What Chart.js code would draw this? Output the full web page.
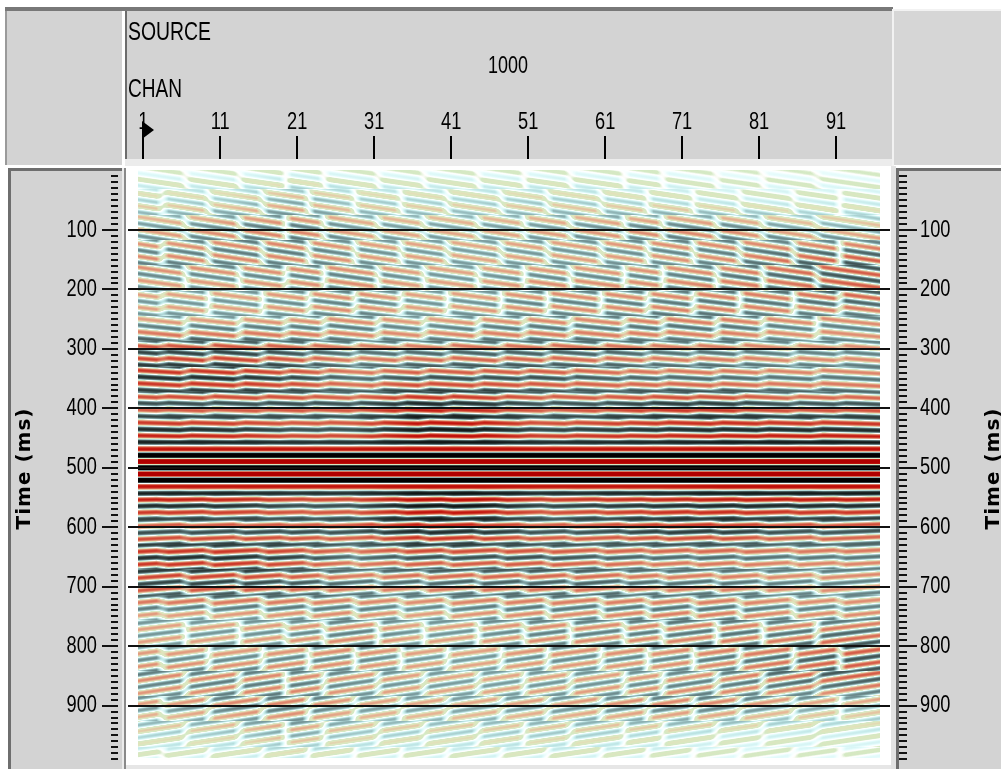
<!DOCTYPE html>
<html>
<head>
<meta charset="utf-8">
<title>SOURCE 1000 - Time (ms)</title>
<script src="https://cdn.jsdelivr.net/npm/chart.js@4.4.1/dist/chart.umd.min.js"></script>
<style>
html,body{margin:0;padding:0;background:#fff;overflow:hidden}
canvas{display:block}
</style>
</head>
<body>
<canvas id="c" width="1001" height="769"></canvas>
<script>
// ---------------- data ----------------
const sourceLabel = 'SOURCE';
const sourceValue = '1000';
const chanLabel = 'CHAN';
const axisTitle = 'Time (ms)';

const channelTicks = [1, 11, 21, 31, 41, 51, 61, 71, 81, 91];
const timeTicks = [100, 200, 300, 400, 500, 600, 700, 800, 900];
const channelCount = 96;
const timeStart = 0;
const timeEnd = 988;

// times (ms) of the black (positive) stripes
const peakTimes = [-11, 10, 31, 52, 73, 95, 116, 137, 158, 179, 201, 222, 243, 264,
  286, 307, 328, 349, 371, 392, 414, 436, 457, 479, 500, 521, 543, 564, 586, 608,
  629, 651, 672, 693, 714, 736, 757, 778, 799, 821, 842, 863, 884, 905, 927, 948,
  969, 990, 1011];

// channels where the stripes visibly break (two staggered sets, alternating in time)
const segmentEdgesA = [0.5, 6.5, 13.5, 19.5, 24.5, 31.5, 37.5, 44.5, 50.5, 56.5,
  63.5, 68.5, 75.5, 81.5, 88.5, 96.5];
const segmentEdgesB = [0.5, 3.5, 9.5, 16.5, 22.5, 28.5, 34.5, 40.5, 47.5, 53.5,
  60.5, 66.5, 72.5, 78.5, 85.5, 91.5, 96.5];
const breakBandMs = 42.6;

// amplitude envelope: rows = envTimes, columns = centres of 8-channel groups
const envTimes = [0, 50, 100, 150, 200, 250, 300, 350, 400, 440, 468, 478, 500,
  522, 532, 560, 600, 650, 700, 750, 800, 850, 900, 950, 1000];
const envChannels = [4.5, 12.5, 20.5, 28.5, 36.5, 44.5, 52.5, 60.5, 68.5, 76.5, 84.5, 92.5];
const amplitude = [
  [0.07, 0.07, 0.09, 0.07, 0.07, 0.07, 0.07, 0.07, 0.07, 0.06, 0.06, 0.06],
  [0.20, 0.22, 0.30, 0.22, 0.20, 0.20, 0.22, 0.20, 0.17, 0.13, 0.12, 0.12],
  [0.35, 0.42, 0.44, 0.35, 0.33, 0.33, 0.35, 0.38, 0.42, 0.42, 0.33, 0.29],
  [0.42, 0.42, 0.42, 0.38, 0.35, 0.33, 0.35, 0.35, 0.38, 0.41, 0.50, 0.56],
  [0.35, 0.35, 0.38, 0.42, 0.35, 0.35, 0.41, 0.41, 0.41, 0.45, 0.47, 0.56],
  [0.35, 0.35, 0.38, 0.41, 0.35, 0.38, 0.41, 0.41, 0.45, 0.45, 0.41, 0.41],
  [0.60, 0.60, 0.54, 0.45, 0.46, 0.50, 0.50, 0.50, 0.45, 0.45, 0.40, 0.40],
  [0.72, 0.72, 0.62, 0.46, 0.58, 0.58, 0.58, 0.52, 0.48, 0.48, 0.44, 0.44],
  [0.55, 0.55, 0.58, 0.58, 0.78, 0.72, 0.55, 0.58, 0.68, 0.68, 0.58, 0.58],
  [0.76, 0.72, 0.58, 0.58, 0.86, 0.86, 0.62, 0.67, 0.72, 0.76, 0.76, 0.76],
  [0.80, 0.80, 0.80, 0.80, 0.85, 0.85, 0.80, 0.80, 0.80, 0.85, 0.85, 0.85],
  [1.50, 1.50, 1.50, 1.50, 1.50, 1.50, 1.50, 1.50, 1.50, 1.50, 1.50, 1.50],
  [1.60, 1.60, 1.60, 1.60, 1.60, 1.60, 1.60, 1.60, 1.60, 1.60, 1.60, 1.60],
  [1.50, 1.50, 1.50, 1.50, 1.50, 1.50, 1.50, 1.50, 1.50, 1.50, 1.50, 1.50],
  [0.80, 0.80, 0.80, 0.80, 0.85, 0.85, 0.80, 0.80, 0.80, 0.85, 0.85, 0.85],
  [0.76, 0.72, 0.58, 0.58, 0.86, 0.86, 0.62, 0.67, 0.72, 0.76, 0.76, 0.76],
  [0.55, 0.55, 0.58, 0.58, 0.78, 0.72, 0.55, 0.58, 0.68, 0.68, 0.58, 0.58],
  [0.72, 0.72, 0.62, 0.46, 0.58, 0.58, 0.58, 0.52, 0.48, 0.48, 0.44, 0.44],
  [0.60, 0.60, 0.54, 0.45, 0.46, 0.50, 0.50, 0.50, 0.45, 0.45, 0.40, 0.40],
  [0.35, 0.35, 0.38, 0.41, 0.35, 0.38, 0.41, 0.41, 0.45, 0.45, 0.41, 0.41],
  [0.35, 0.35, 0.38, 0.42, 0.35, 0.35, 0.41, 0.41, 0.41, 0.45, 0.47, 0.56],
  [0.42, 0.42, 0.42, 0.38, 0.35, 0.33, 0.35, 0.35, 0.38, 0.41, 0.50, 0.56],
  [0.35, 0.42, 0.44, 0.35, 0.33, 0.33, 0.35, 0.38, 0.42, 0.42, 0.33, 0.29],
  [0.20, 0.22, 0.30, 0.22, 0.20, 0.20, 0.22, 0.20, 0.17, 0.13, 0.12, 0.12],
  [0.07, 0.07, 0.09, 0.07, 0.07, 0.07, 0.07, 0.07, 0.07, 0.06, 0.06, 0.06]
];
// stripe dip inside a segment (ms per channel, + = later to the right)
const dipMs = [1.9, 1.9, 2.0, 1.9, 1.7, 1.4, 1.0, 0.7, 0.5, 0.3, 0, 0, 0,
  0, 0, -0.3, -0.5, -0.7, -1.0, -1.4, -1.7, -1.9, -2.0, -1.9, -1.9];

// colour table: amplitude -> colour
const colorStops = [
  [-1.00, [176, 0, 0]],
  [-0.80, [196, 22, 14]],
  [-0.60, [210, 80, 60]],
  [-0.42, [222, 136, 110]],
  [-0.28, [230, 184, 152]],
  [-0.16, [224, 228, 188]],
  [-0.06, [212, 233, 196]],
  [-0.02, [250, 252, 246]],
  [0.00, [255, 255, 255]],
  [0.03, [246, 255, 255]],
  [0.08, [224, 250, 250]],
  [0.16, [190, 230, 230]],
  [0.28, [140, 176, 178]],
  [0.42, [96, 124, 126]],
  [0.60, [54, 72, 72]],
  [0.80, [22, 30, 30]],
  [1.00, [0, 0, 0]]
];

// ---------------- helpers ----------------
const FONT_FAMILY = "'Liberation Sans', Arial, sans-serif";
const NARROW_FACTOR = 0.76;
const X_MIN = -0.988, X_MAX = 98.01;
const Y_MIN = -4.2, Y_MAX = 1006.6;
const FADE_CH = 0.8;

const nativeFillText = CanvasRenderingContext2D.prototype.fillText;
function narrowFillText(text, x, y, maxWidth) {
  const w = this.measureText(text).width * NARROW_FACTOR;
  nativeFillText.call(this, text, x, y, maxWidth !== undefined ? Math.min(maxWidth, w) : w);
}

function locate(arr, v) {
  if (v <= arr[0]) return [0, 0];
  const n = arr.length;
  if (v >= arr[n - 1]) return [n - 2, 1];
  let i = 0;
  while (arr[i + 1] < v) i++;
  return [i, (v - arr[i]) / (arr[i + 1] - arr[i])];
}

const LUT_N = 512;
const lut = new Uint8ClampedArray(LUT_N * 3);
(function buildLut() {
  for (let k = 0; k < LUT_N; k++) {
    const v = -1 + 2 * k / (LUT_N - 1);
    let j = 0;
    while (j < colorStops.length - 2 && colorStops[j + 1][0] < v) j++;
    const a = colorStops[j], b = colorStops[j + 1];
    const f = Math.min(1, Math.max(0, (v - a[0]) / (b[0] - a[0])));
    for (let q = 0; q < 3; q++) lut[k * 3 + q] = a[1][q] + (b[1][q] - a[1][q]) * f;
  }
})();

const P_FIRST = peakTimes[0], P_LAST = peakTimes[peakTimes.length - 1];
const P_MEAN = (P_LAST - P_FIRST) / (peakTimes.length - 1);
function carrier(tt) {
  if (tt < P_FIRST) tt += Math.ceil((P_FIRST - tt) / P_MEAN) * P_MEAN;
  if (tt > P_LAST) tt -= Math.ceil((tt - P_LAST) / P_MEAN) * P_MEAN;
  let i = Math.floor((tt - P_FIRST) / P_MEAN);
  if (i < 0) i = 0;
  if (i > peakTimes.length - 2) i = peakTimes.length - 2;
  while (i > 0 && peakTimes[i] > tt) i--;
  while (i < peakTimes.length - 2 && peakTimes[i + 1] < tt) i++;
  const f = (tt - peakTimes[i]) / (peakTimes[i + 1] - peakTimes[i]);
  return Math.cos(2 * Math.PI * f);
}

function columnLayout(edges, c) {
  const nSeg = edges.length - 1;
  let j = 0;
  while (j < nSeg - 1 && edges[j + 1] < c) j++;
  const centre = (edges[j] + edges[j + 1]) / 2;
  const dl = c - edges[j], dr = edges[j + 1] - c;
  let nb = -1, wn = 0;
  if (dl < FADE_CH && j > 0) { nb = j - 1; wn = 0.5 * (1 - dl / FADE_CH); }
  else if (dr < FADE_CH && j < nSeg - 1) { nb = j + 1; wn = 0.5 * (1 - dr / FADE_CH); }
  const nbCentre = nb >= 0 ? (edges[nb] + edges[nb + 1]) / 2 : centre;
  return { own: c - centre, nbr: c - nbCentre, wn };
}

function drawSection(chart) {
  const ctx = chart.ctx;
  const xs = chart.scales.x, ys = chart.scales.y;
  const x0 = Math.round(xs.getPixelForValue(0.3));
  const x1 = Math.round(xs.getPixelForValue(channelCount + 0.7));
  const y0 = Math.round(ys.getPixelForValue(timeStart));
  const y1 = Math.round(ys.getPixelForValue(timeEnd));
  const w = x1 - x0, h = y1 - y0;
  const img = ctx.createImageData(w, h);
  const d = img.data;
  const colA = [], colB = [], colEnv = [];
  for (let px = 0; px < w; px++) {
    const c = xs.getValueForPixel(x0 + px + 0.5);
    colA.push(columnLayout(segmentEdgesA, c));
    colB.push(columnLayout(segmentEdgesB, c));
    colEnv.push(locate(envChannels, c));
  }
  const rowEnv = new Float32Array(envChannels.length);
  for (let py = 0; py < h; py++) {
    const t = ys.getValueForPixel(y0 + py + 0.5);
    const [ri, rf] = locate(envTimes, t);
    for (let g = 0; g < envChannels.length; g++) {
      rowEnv[g] = amplitude[ri][g] + (amplitude[ri + 1][g] - amplitude[ri][g]) * rf;
    }
    const dip = dipMs[ri] + (dipMs[ri + 1] - dipMs[ri]) * rf;
    const band = Math.floor((t + P_MEAN / 2) / breakBandMs);
    const cols = (band % 2 === 0) ? colA : colB;
    for (let px = 0; px < w; px++) {
      const k0 = cols[px];
      const [ci, cf] = colEnv[px];
      const env = rowEnv[ci] + (rowEnv[ci + 1] - rowEnv[ci]) * cf;
      let s = carrier(t - dip * k0.own);
      if (k0.wn > 0) s = (1 - k0.wn) * s + k0.wn * carrier(t - dip * k0.nbr);
      let v = env * s;
      if (v > 1) v = 1;
      if (v < -1) v = -1;
      const k = Math.round((v + 1) / 2 * (LUT_N - 1)) * 3;
      const o = (py * w + px) * 4;
      d[o] = lut[k]; d[o + 1] = lut[k + 1]; d[o + 2] = lut[k + 2]; d[o + 3] = 255;
    }
  }
  ctx.putImageData(img, x0, y0);
}

function rect(ctx, color, x, y, w, h) { ctx.fillStyle = color; ctx.fillRect(x, y, w, h); }

const framePlugin = {
  id: 'frame',
  beforeDraw(chart) {
    const ctx = chart.ctx;
    ctx.fillText = narrowFillText;
    ctx.save();
    rect(ctx, '#ffffff', 0, 0, 1001, 769);
    rect(ctx, '#787878', 5, 7, 888, 4);
    rect(ctx, '#9a9a9a', 5, 11, 2, 154);
    rect(ctx, '#d3d3d3', 7, 11, 115, 154);
    rect(ctx, '#d3d3d3', 127, 11, 765, 148);
    rect(ctx, '#6c6c6c', 125, 11, 2, 149);
    rect(ctx, '#ececec', 125, 159, 767, 7);
    rect(ctx, '#d6d6d6', 893, 9, 108, 156);
    rect(ctx, '#f2f2f2', 892, 9, 2, 157);
    rect(ctx, '#f2f2f2', 893, 9, 108, 2);
    rect(ctx, '#d3d3d3', 8, 168, 114, 601);
    rect(ctx, '#6e6e6e', 8, 168, 3, 601);
    rect(ctx, '#6e6e6e', 8, 168, 114, 3);
    rect(ctx, '#ececec', 122, 168, 2, 601);
    rect(ctx, '#8a8a8a', 124, 168, 2, 601);
    rect(ctx, '#e2e2e2', 891, 166, 5, 603);
    rect(ctx, '#d3d3d3', 896, 168, 105, 601);
    rect(ctx, '#6e6e6e', 896, 168, 3, 601);
    rect(ctx, '#6e6e6e', 896, 168, 105, 3);
    rect(ctx, '#e6e6e6', 126, 765, 765, 4);
    ctx.restore();
    drawSection(chart);
  },
  afterDraw(chart) {
    const ctx = chart.ctx;
    const xs = chart.scales.x, ys = chart.scales.y;
    ctx.save();
    ctx.fillStyle = '#000';
    channelTicks.forEach(c => {
      const x = Math.round(xs.getPixelForValue(c));
      ctx.fillRect(x - 1, 136, 2, 23);
    });
    const fx = Math.round(xs.getPixelForValue(channelTicks[0])) - 1;
    ctx.beginPath();
    ctx.moveTo(fx, 121);
    ctx.lineTo(fx + 12, 130);
    ctx.lineTo(fx, 139);
    ctx.closePath();
    ctx.fill();
    ctx.fillStyle = '#111';
    for (let t = 10; t < 1000; t += 10) {
      const y = Math.round(ys.getPixelForValue(t));
      if (timeTicks.includes(t)) {
        ctx.fillRect(102, y - 1, 16, 2);
        ctx.fillRect(899, y - 1, 18, 2);
      } else {
        ctx.fillRect(111, y - 1, 7, 2);
        ctx.fillRect(899, y - 1, 8, 2);
      }
    }
    ctx.fillStyle = '#000';
    ctx.textBaseline = 'alphabetic';
    ctx.textAlign = 'left';
    ctx.font = '26px ' + FONT_FAMILY;
    nativeFillText.call(ctx, sourceLabel, 128, 40, 83);
    nativeFillText.call(ctx, chanLabel, 128, 97, 54);
    ctx.font = '24px ' + FONT_FAMILY;
    nativeFillText.call(ctx, sourceValue, 488, 73, 40);
    const cy = (chart.chartArea.top + chart.chartArea.bottom) / 2;
    ctx.font = "bold 20px 'DejaVu Sans', sans-serif";
    ctx.textAlign = 'center';
    try { ctx.letterSpacing = '1px'; } catch (e) {}
    [30, 999].forEach(bx => {
      ctx.save();
      ctx.translate(bx, cy);
      ctx.rotate(-Math.PI / 2);
      nativeFillText.call(ctx, axisTitle, 0, 0);
      ctx.restore();
    });
    ctx.restore();
    ctx.fillText = nativeFillText;
  }
};

const tickFont = { family: FONT_FAMILY, size: 24 };
const setTimeTicks = s => { s.ticks = timeTicks.map(v => ({ value: v })); };
const noPadV = w => s => { s.width = w; s.paddingTop = 0; s.paddingBottom = 0; };

new Chart(document.getElementById('c'), {
  type: 'scatter',
  data: { datasets: [] },
  options: {
    responsive: false,
    animation: false,
    devicePixelRatio: 1,
    layout: { padding: 0 },
    plugins: { legend: { display: false }, tooltip: { enabled: false }, title: { display: false } },
    scales: {
      x: {
        type: 'linear', position: 'top', min: X_MIN, max: X_MAX,
        afterBuildTicks: s => { s.ticks = channelTicks.map(v => ({ value: v })); },
        afterFit: s => { s.height = 168; s.paddingLeft = 0; s.paddingRight = 0; },
        grid: { display: false, drawTicks: false },
        border: { display: false },
        ticks: { font: tickFont, color: '#000', padding: 31, maxRotation: 0, autoSkip: false, callback: v => String(v) }
      },
      y: {
        type: 'linear', position: 'left', reverse: true, min: Y_MIN, max: Y_MAX,
        afterBuildTicks: setTimeTicks,
        afterFit: noPadV(128),
        grid: { drawOnChartArea: true, drawTicks: false, color: '#111', lineWidth: 2 },
        border: { display: false },
        ticks: { font: tickFont, color: '#000', padding: 31, autoSkip: false, callback: v => String(v) }
      },
      y2: {
        type: 'linear', position: 'right', reverse: true, min: Y_MIN, max: Y_MAX,
        afterBuildTicks: setTimeTicks,
        afterFit: noPadV(111),
        grid: { display: false, drawTicks: false },
        border: { display: false },
        ticks: { font: tickFont, color: '#000', padding: 30, autoSkip: false, callback: v => String(v) }
      }
    }
  },
  plugins: [framePlugin]
});
</script>
</body>
</html>
